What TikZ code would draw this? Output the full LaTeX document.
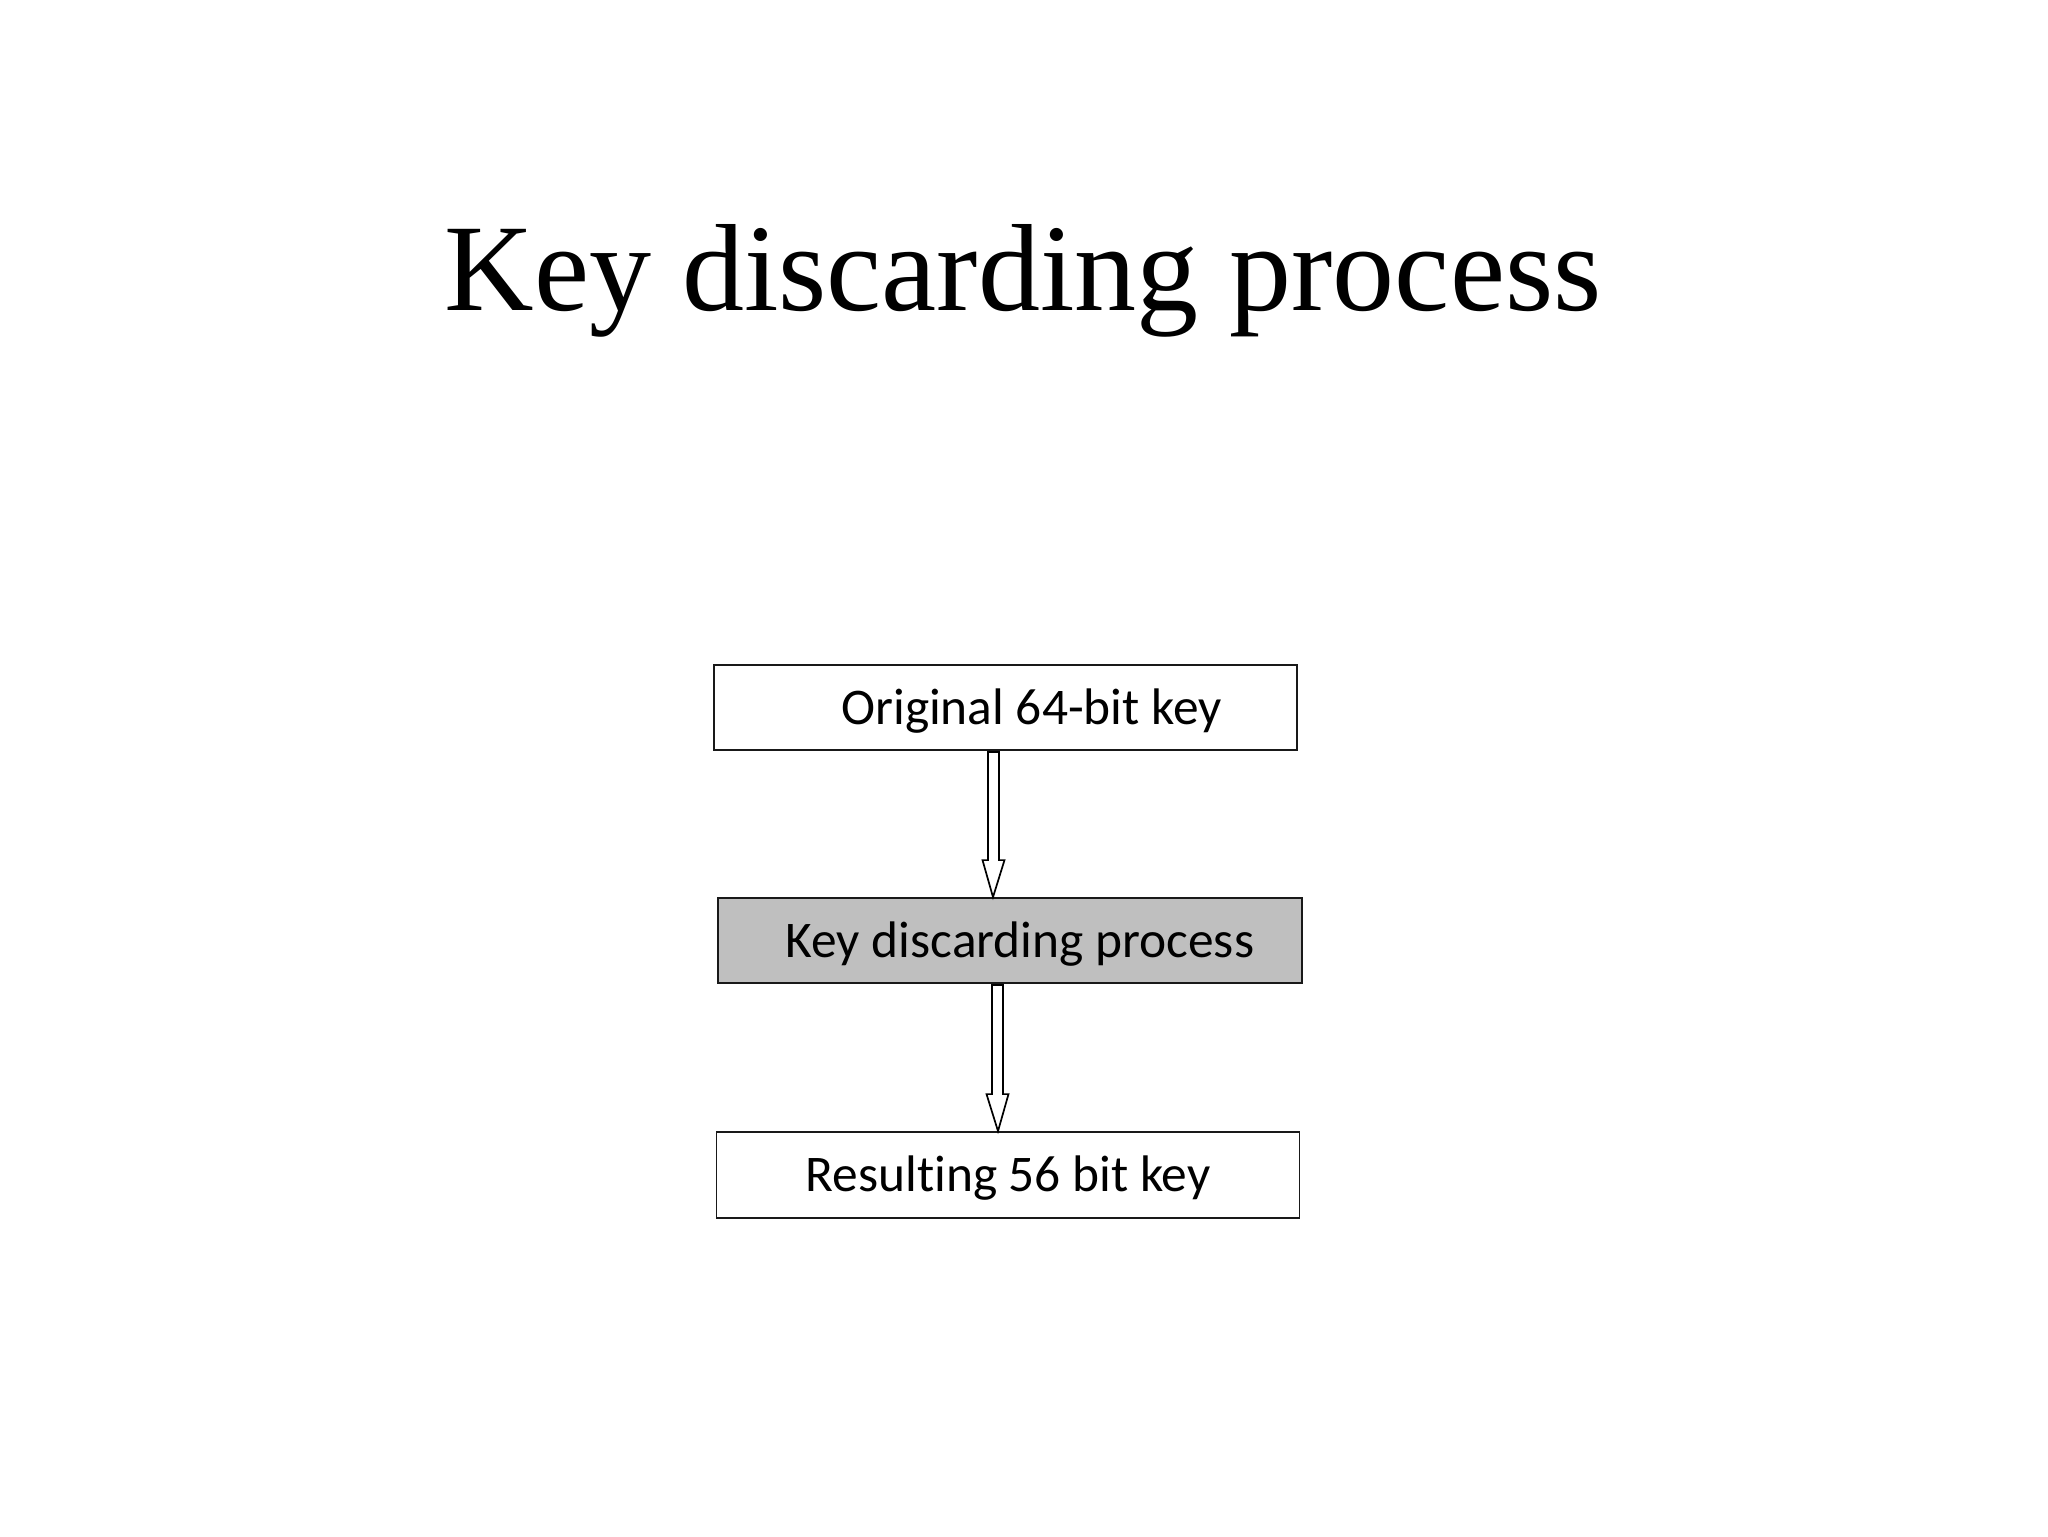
\documentclass[tikz,border=0pt]{standalone}
\usepackage{fontspec}
\setmainfont{Liberation Serif}
\newfontfamily\boxfont[Ligatures=NoCommon]{Carlito}
\usetikzlibrary{calc}
% hollow block arrow from #1 (top of shaft) to #2 (tip)
\newcommand{\blockarrow}[2]{%
 \draw[hollow] let \p1=(#1), \p2=(#2) in
 (\x1-2.75pt,\y1)--(\x1-2.75pt,\y2+18.5pt)--(\x1-5.5pt,\y2+18.5pt)--(\x2,\y2)
 --(\x1+5.5pt,\y2+18.5pt)--(\x1+2.75pt,\y2+18.5pt)--(\x1+2.75pt,\y1)--cycle;}
\begin{document}
\begin{tikzpicture}[x=0.5pt,y=-0.5pt,
 keybox/.style={draw=black!90,line width=0.9pt,minimum width=291.5pt,minimum height=42.5pt,
  inner sep=0pt,text height=16.5pt,text depth=0pt,font=\boxfont\fontsize{25.7}{30}\selectfont},
 hollow/.style={draw=black,line width=0.85pt,fill=white,line join=miter}]
\useasboundingbox[fill=white] (0,0) rectangle (2048,1536);
% title
\node[anchor=base,font=\fontsize{62}{74}\selectfont] (title) at (1023,310) {Key discarding process};
% boxes
\node[keybox] (orig) at (1005.5,707.5) {\hspace*{26pt}Original 64-bit key};
\node[keybox,fill=black!25,minimum width=292pt] (proc) at (1010,940.5) {\hspace*{10pt}Key discarding process};
\node[keybox,minimum height=43pt] (res) at (1008,1175) {Resulting 56 bit key};
% arrows
\coordinate (a1) at ($(orig.south)+(-12,1)$);
\coordinate (t1) at ($(proc.north)+(-17,0)$);
\coordinate (a2) at ($(proc.south)+(-12.5,1)$);
\coordinate (t2) at ($(res.north)+(-10,0)$);
\blockarrow{a1}{t1}
\blockarrow{a2}{t2}
\end{tikzpicture}
\end{document}
